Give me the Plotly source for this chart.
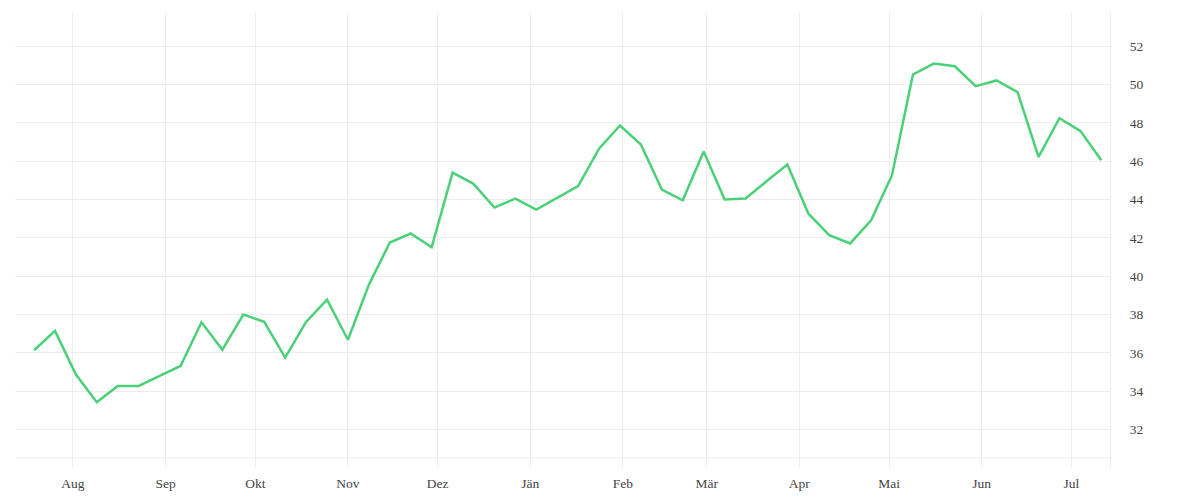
import pandas as pd
import plotly.graph_objects as go

# weekly values
start_date = "2022-07-19"
values = [
    36.14, 37.15, 34.87, 33.43, 34.28, 34.28, 34.80, 35.32, 37.60, 36.17,
    38.00, 37.62, 35.76, 37.62, 38.78, 36.69, 39.55, 41.76, 42.23, 41.51,
    45.40, 44.82, 43.58, 44.05, 43.48, 44.08, 44.70, 46.65, 47.86, 46.87,
    44.52, 43.96, 46.50, 44.00, 44.05, 44.95, 45.83, 43.27, 42.14, 41.71,
    42.92, 45.27, 50.52, 51.09, 50.95, 49.91, 50.21, 49.60, 46.22, 48.24,
    47.58, 46.05,
]
dates = pd.date_range(start_date, periods=len(values), freq="7D")

month_ticks = pd.date_range("2022-08-01", "2023-07-01", freq="MS")
month_labels = ["Aug", "Sep", "Okt", "Nov", "Dez", "Jän",
                "Feb", "Mär", "Apr", "Mai", "Jun", "Jul"]
y_ticks = [32, 34, 36, 38, 40, 42, 44, 46, 48, 50, 52]

grid = "#ededed"
line_green = "#4ad178"

fig = go.Figure()
fig.add_trace(go.Scatter(x=dates, y=values, mode="lines",
                         line=dict(color=line_green, width=2.5),
                         showlegend=False))

# page body has an 8px margin, so the figure is a bit smaller than the window
fig.update_layout(
    width=1192, height=492,
    margin=dict(l=7, r=90, t=4, b=32),
    plot_bgcolor="white", paper_bgcolor="white",
    font=dict(family="Liberation Serif", size=13.5, color="#444444"),
    xaxis=dict(
        tickvals=month_ticks, ticktext=month_labels,
        range=["2022-07-12 15:00", "2023-07-13 22:00"],
        showgrid=True, gridcolor=grid, gridwidth=1,
        zeroline=False, showline=False, ticks="",
        ticklabelstandoff=5,
    ),
    yaxis=dict(
        side="right", tickvals=y_ticks,
        range=[30.0, 53.78],
        showgrid=True, gridcolor=grid, gridwidth=1,
        zeroline=False, showline=True, linecolor=grid, linewidth=1,
        ticks="", ticklabelstandoff=16,
    ),
)

# faint base line just above the bottom edge
fig.add_shape(type="line", xref="paper", yref="paper", x0=0, x1=1,
              y0=0.022, y1=0.022, line=dict(color=grid, width=1),
              layer="below")

fig.write_html("out.html")
